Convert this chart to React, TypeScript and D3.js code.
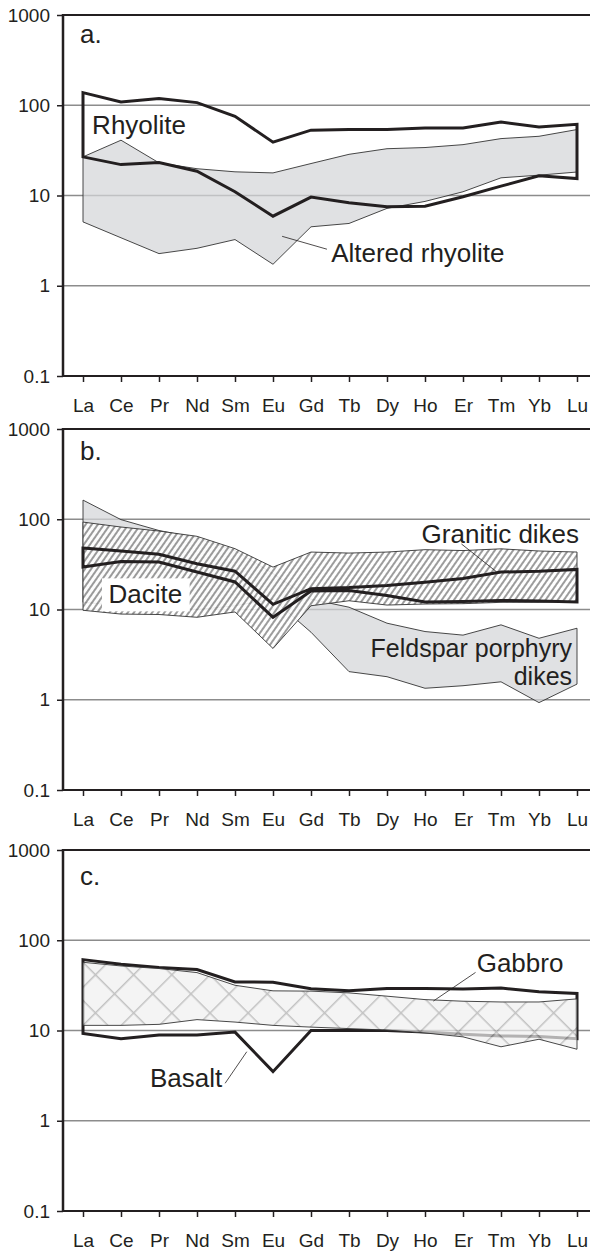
import { useEffect, useRef } from 'react';
import * as d3 from 'd3';

// REE patterns, chondrite normalised
const elements = ['La', 'Ce', 'Pr', 'Nd', 'Sm', 'Eu', 'Gd', 'Tb', 'Dy', 'Ho', 'Er', 'Tm', 'Yb', 'Lu'];
const yTicks = [0.1, 1, 10, 100, 1000];
const panelLetters = ['a.', 'b.', 'c.'];

// a. rhyolite
const rhyoliteHigh = [138, 109, 119, 107, 75.5, 39, 53, 53.7, 54, 56, 56, 65, 57.5, 61.5];
const rhyoliteLow = [26.8, 22.0, 23.2, 18.6, 11, 5.9, 9.6, 8.3, 7.5, 7.6, 9.7, 12.7, 16.5, 15.4];
const alteredHigh = [26.8, 41, 23, 19.8, 18.3, 17.8, 22.6, 28.6, 33, 34, 36.6, 42.7, 45.3, 53.8];
const alteredLow = [5.1, 3.4, 2.27, 2.6, 3.25, 1.73, 4.5, 4.9, 7.2, 8.6, 11.0, 15.7, 16.8, 18.2];

// b. dacite / granitic dikes / feldspar porphyry dikes
const daciteHigh = [48, 44.5, 40.9, 32.2, 26.6, 11.4, 17, 17.5, 18.5, 20, 22, 26, 26.5, 27.8];
const daciteLow = [29.5, 34.1, 33.6, 26, 20.2, 8.2, 16.0, 16.2, 14.3, 12.1, 12.3, 12.6, 12.4, 12.1];
const graniticHigh = [93, 82, 74, 64.7, 47.2, 29.5, 43.3, 42.2, 43.3, 46, 45, 47, 44.5, 43.3];
const graniticLow = [9.8, 8.9, 8.8, 8.2, 9.4, 3.7, 11, 12.5, 11.2, 11.5, 11.6, 12.0, 12.0, 12.2];
const feldsparHigh = [163, 99, 75, 62, 45, 25, 13, 10.6, 7.05, 5.7, 5.2, 6.76, 4.8, 6.2];
const feldsparLow = [12, 11, 11, 10, 11, 13, 5.6, 2.05, 1.8, 1.34, 1.43, 1.58, 0.93, 1.49];

// c. basalt / gabbro
const basaltHigh = [61, 54.2, 49.8, 47.4, 34.5, 34.3, 29.1, 27.5, 29.2, 29.2, 28.9, 29.6, 26.8, 25.7];
const basaltLow = [9.25, 8.1, 8.9, 8.9, 9.6, 3.5, 10.0, 10.0, 10.0, 9.6, 9.1, 8.7, 8.6, 8.1];
const gabbroHigh = [57, 51.9, 48.6, 43.8, 31.7, 27.5, 27.3, 26.1, 24.0, 22.0, 21.1, 20.7, 20.7, 22.4];
const gabbroLow = [11.4, 11.4, 11.7, 13.2, 12.4, 11.4, 10.9, 10.5, 10.1, 9.4, 8.5, 6.6, 8.0, 6.2];

// labels: [element index (fractional), value]; extra lines go below
const labelsA = [
  { text: ['Rhyolite'], at: [0.24, 48.5], anchor: 'start' },
  { text: ['Altered rhyolite'], at: [6.53, 1.82], anchor: 'start', leader: [[5.24, 3.53], [6.42, 2.54]] },
];
const labelsB = [
  { text: ['Dacite'], at: [0.67, 11.7], anchor: 'start', box: true },
  { text: ['Granitic dikes'], at: [8.91, 54.1], anchor: 'start', leader: [[9.96, 53.2], [10.88, 26.2]] },
  { text: ['Feldspar porphyry', 'dikes'], at: [12.87, 2.98], anchor: 'end', size: 25, lead: 28 },
];
const labelsC = [
  { text: ['Basalt'], at: [1.76, 2.38], anchor: 'start', leader: [[3.74, 2.6], [4.31, 5.82]] },
  { text: ['Gabbro'], at: [10.36, 44.9], anchor: 'start', leader: [[10.33, 44], [9.22, 21.2]] },
];

const FONT = '"Liberation Sans", Arial, Helvetica, sans-serif';
const INK = '#231f20';

export default function App() {
  const svgRef = useRef<SVGSVGElement>(null);

  useEffect(() => {
    if (!svgRef.current) return;
    document.body.style.margin = '0';
    const svg = d3.select(svgRef.current);
    svg.selectAll('*').remove();

    const defs = svg.append('defs');
    const hatch = defs
      .append('pattern')
      .attr('id', 'hatch')
      .attr('patternUnits', 'userSpaceOnUse')
      .attr('width', 5)
      .attr('height', 10)
      .attr('patternTransform', 'rotate(35)');
    hatch.append('rect').attr('width', 5).attr('height', 10).attr('fill', '#fff');
    hatch
      .append('line')
      .attr('x1', 1).attr('x2', 1).attr('y1', 0).attr('y2', 10)
      .attr('stroke', '#6e6e6e')
      .attr('stroke-width', 1.5);

    const cross = defs
      .append('pattern')
      .attr('id', 'cross')
      .attr('patternUnits', 'userSpaceOnUse')
      .attr('width', 27)
      .attr('height', 27)
      .attr('patternTransform', 'rotate(45)');
    cross.append('rect').attr('width', 27).attr('height', 27).attr('fill', '#f0f0f0');
    cross
      .append('path')
      .attr('d', 'M0,0.75H27M0.75,0V27')
      .attr('stroke', '#a8a8a8')
      .attr('stroke-width', 1.5)
      .attr('fill', 'none');

    const tops = [15, 429, 850];
    const letterDy = [28, 31, 35];
    const plotH = 361;
    const left = 63;
    const right = 590;

    const x = d3.scalePoint<string>().domain(elements).range([83, 577]);
    const xi = d3.scaleLinear().domain([0, elements.length - 1]).range([83, 577]);

    tops.forEach((top, p) => {
      const y = d3.scaleLog().domain([0.1, 1000]).range([top + plotH, top]);
      const g = svg.append('g');

      // grid
      g.append('g')
        .selectAll('line')
        .data([1, 10, 100])
        .enter()
        .append('line')
        .attr('x1', left)
        .attr('x2', right)
        .attr('y1', (d) => y(d))
        .attr('y2', (d) => y(d))
        .attr('stroke', '#8c8c8c')
        .attr('stroke-width', 1.3);

      const band = (hi: number[], lo: number[]) => {
        const pts: [number, number][] = [
          ...hi.map((v, i) => [x(elements[i])!, y(v)] as [number, number]),
          ...lo.map((v, i) => [x(elements[i])!, y(v)] as [number, number]).reverse(),
        ];
        return d3.line().curve(d3.curveLinearClosed)(pts) || '';
      };

      if (p === 0) {
        g.append('path').attr('d', band(alteredHigh, alteredLow))
          .attr('fill', '#d4d5d8').attr('fill-opacity', 0.72)
          .attr('stroke', '#333').attr('stroke-width', 0.9);
        g.append('path').attr('d', band(rhyoliteHigh, rhyoliteLow))
          .attr('fill', 'none').attr('stroke', INK).attr('stroke-width', 3)
          .attr('stroke-linejoin', 'miter');
      } else if (p === 1) {
        g.append('path').attr('d', band(feldsparHigh, feldsparLow))
          .attr('fill', '#d4d5d8').attr('fill-opacity', 0.72)
          .attr('stroke', '#333').attr('stroke-width', 0.9);
        g.append('path').attr('d', band(graniticHigh, graniticLow))
          .attr('fill', 'url(#hatch)').attr('fill-opacity', 0.9)
          .attr('stroke', '#333').attr('stroke-width', 0.9);
        g.append('path').attr('d', band(daciteHigh, daciteLow))
          .attr('fill', 'none').attr('stroke', INK).attr('stroke-width', 3);
      } else {
        g.append('path').attr('d', band(basaltHigh, basaltLow))
          .attr('fill', 'none').attr('stroke', INK).attr('stroke-width', 3);
        g.append('path').attr('d', band(gabbroHigh, gabbroLow))
          .attr('fill', 'url(#cross)').attr('fill-opacity', 0.7)
          .attr('stroke', '#333').attr('stroke-width', 0.9);
      }

      // axes
      const yAxis = g.append('g')
        .attr('transform', `translate(${left},0)`)
        .call(d3.axisLeft(y).tickValues(yTicks).tickFormat((d) => String(d)).tickSize(6).tickPadding(7));
      const xAxis = g.append('g')
        .attr('transform', `translate(0,${top + plotH})`)
        .call(d3.axisBottom(x).tickSize(6).tickPadding(16.5));
      [yAxis, xAxis].forEach((ax) => {
        ax.select('.domain').remove();
        ax.selectAll('line').attr('stroke', INK).attr('stroke-width', 1.5);
        ax.selectAll('text').attr('fill', INK).attr('font-size', 19).attr('font-family', FONT);
      });

      g.append('line').attr('x1', left).attr('x2', left).attr('y1', top - 1).attr('y2', top + plotH + 1)
        .attr('stroke', INK).attr('stroke-width', 2.5);
      g.append('line').attr('x1', left).attr('x2', right).attr('y1', top + plotH).attr('y2', top + plotH)
        .attr('stroke', INK).attr('stroke-width', 2.2);
      g.append('line').attr('x1', left).attr('x2', right).attr('y1', top).attr('y2', top)
        .attr('stroke', INK).attr('stroke-width', 2.2);

      g.append('text')
        .attr('x', 80)
        .attr('y', top + letterDy[p])
        .attr('font-size', 26)
        .attr('font-family', FONT)
        .attr('fill', INK)
        .text(panelLetters[p]);

      const labels = [labelsA, labelsB, labelsC][p];
      labels.forEach((l: any) => {
        if (l.leader) {
          g.append('line')
            .attr('x1', xi(l.leader[0][0])).attr('y1', y(l.leader[0][1]))
            .attr('x2', xi(l.leader[1][0])).attr('y2', y(l.leader[1][1]))
            .attr('stroke', INK).attr('stroke-width', 0.8);
        }
        const lx = xi(l.at[0]);
        const t = g.append('text')
          .attr('x', lx)
          .attr('y', y(l.at[1]))
          .attr('text-anchor', l.anchor)
          .attr('font-size', l.size || 26)
          .attr('font-family', FONT)
          .attr('fill', INK);
        (l.text as string[]).forEach((line, k) => {
          t.append('tspan')
            .attr('x', lx)
            .attr('dy', k === 0 ? 0 : l.lead || 28)
            .text(line);
        });
        if (l.box) {
          const bb = (t.node() as SVGTextElement).getBBox();
          g.insert('rect', () => t.node() as any)
            .attr('x', bb.x - 6.5)
            .attr('y', bb.y - 1)
            .attr('width', bb.width + 14)
            .attr('height', bb.height + 3)
            .attr('fill', '#fff');
        }
      });
    });
  }, []);

  return (
    <div style={{ position: 'absolute', left: 0, top: 0 }}>
      <svg ref={svgRef} width={590} height={1252} style={{ display: 'block', background: '#fff' }} />
    </div>
  );
}
